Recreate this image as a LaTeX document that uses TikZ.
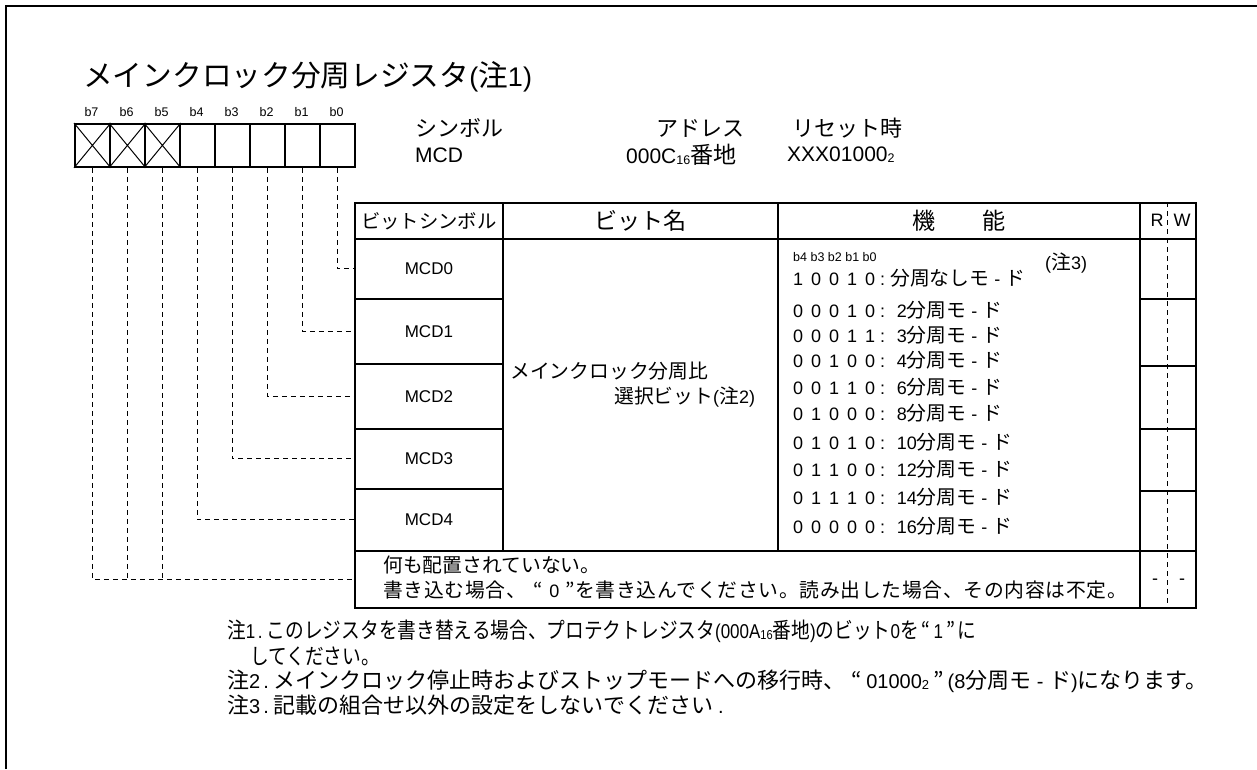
\documentclass[tikz,border=0pt]{standalone}
\usepackage{fontspec}
\usepackage{graphicx}
\setmainfont{Liberation Sans}
\newfontfamily\jp{Noto Sans CJK JP}[Scale=1.1]
\newfontfamily\jpv{Noto Sans CJK JP}[Scale=1.1, LetterSpace=3.5]
\newcommand\J[1]{{\jp #1}}
\newcommand\V[1]{{\jpv #1}}
\newcommand\fs[1]{\fontsize{#1}{#1}\selectfont}
\newcommand\bits[5]{#1\hspace{8pt}#2\hspace{8pt}#3\hspace{8pt}#4\hspace{8pt}#5\hspace{5pt}:\hspace{5pt}}
\newcommand\sub[1]{\raisebox{-1pt}{\fs{12.5}#1}}
\newcommand\subs[1]{\raisebox{-1pt}{\fs{13}#1}}
\newcommand\md{~-~\J{ド}}
\newcommand\cond[1]{\scalebox{0.85}[1]{#1}}
\begin{document}
\begin{tikzpicture}[x=1pt,y=-1pt,
  txt/.style={inner sep=0pt, anchor=west},
  frameline/.style={line width=2pt},
  bitbox/.style={draw, line width=1.8pt, minimum width=35pt, minimum height=43pt, inner sep=0pt, anchor=north west},
  cell/.style={draw, line width=1.8pt, inner sep=0pt, anchor=north west},
  xline/.style={line width=1pt},
  dsh/.style={line width=1pt, dash pattern=on 5pt off 4pt},
  body/.style={font=\fs{18}},
  head/.style={font=\fs{20}},
  headl/.style={font=\fs{21}},
  note/.style={font=\fs{20}, inner sep=0pt, anchor=west},
  small/.style={font=\fs{12.5}, inner sep=0pt}]
\useasboundingbox (0,0) rectangle (1257,769);
% frame
\draw[frameline] (6,769) -- (6,6) -- (1257,6);
% title
\node[txt, font=\fs{27}] (title) at (83,77) {\J{メインクロック分周レジスタ}(\J{注}1)};
% bit boxes
\foreach \i/\n in {0/7,1/6,2/5,3/4,4/3,5/2,6/1,7/0}{
  \node[bitbox] (b\n) at ({74+35*\i},123) {};
  \node[small] (lb\n) at ({91.5+35*\i},112) {b\n};
}
\foreach \n in {7,6,5}{
  \draw[xline] (b\n.north west) -- (b\n.south east) (b\n.south west) -- (b\n.north east);
}
% symbol / address / reset
\node[txt, head] (sym) at (415,128) {\J{シンボル}};
\node[txt, headl] (symv) at (415,155) {MCD};
\node[head, inner sep=0pt] (adr) at (700,128) {\J{アドレス}};
\node[txt, headl] (adrv) at (626,155) {000C\sub{16}\J{番地}};
\node[txt, head] (rst) at (792,128) {\J{リセット時}};
\node[txt, headl] (rstv) at (787,155) {XXX01000\sub{2}};
% table header
\node[cell, minimum width=148pt, minimum height=36pt, font=\fs{17.6}] (hs) at (354,202) {\J{ビットシンボル}};
\node[cell, minimum width=275pt, minimum height=36pt, font=\fs{21}] (hn) at (502,202) {\J{ビット名}};
\node[cell, minimum width=362pt, minimum height=36pt, font=\fs{21}] (hf) at (777,202) {\J{機　　能}};
\node[cell, minimum width=56pt, minimum height=36pt] (hrw) at (1139,202) {};
\node[body, inner sep=0pt] (hr) at (1157,220) {R};
\node[body, inner sep=0pt] (hw) at (1182,220) {W};
% bit symbol cells
\node[cell, minimum width=148pt, minimum height=60pt, font=\fs{17}] (m0) at (354,238) {MCD0};
\node[cell, minimum width=148pt, minimum height=65pt, font=\fs{17}] (m1) at (354,298) {MCD1};
\node[cell, minimum width=148pt, minimum height=65pt, font=\fs{17}] (m2) at (354,363) {MCD2};
\node[cell, minimum width=148pt, minimum height=60pt, font=\fs{17}] (m3) at (354,428) {MCD3};
\node[cell, minimum width=148pt, minimum height=62pt, font=\fs{17}] (m4) at (354,488) {MCD4};
\node[cell, minimum width=275pt, minimum height=312pt] (nm) at (502,238) {};
\node[cell, minimum width=362pt, minimum height=312pt] (fn) at (777,238) {};
\node[cell, minimum width=56pt, minimum height=60pt] (rw0) at (1139,238) {};
\node[cell, minimum width=56pt, minimum height=67pt] (rw1) at (1139,298) {};
\node[cell, minimum width=56pt, minimum height=63pt] (rw2) at (1139,365) {};
\node[cell, minimum width=56pt, minimum height=62pt] (rw3) at (1139,428) {};
\node[cell, minimum width=56pt, minimum height=60pt] (rw4) at (1139,490) {};
\node[cell, minimum width=785pt, minimum height=57pt] (nr) at (354,550) {};
\node[cell, minimum width=56pt, minimum height=57pt] (rw5) at (1139,550) {};
\draw[dsh] (hrw.north) -- (rw5.south);
\node[body, inner sep=0pt] (dr) at (1155,582) {-};
\node[body, inner sep=0pt] (dw) at (1182,582) {-};
% bit name
\node[txt, body] (nm1) at (510,371) {\J{メインクロック分周比}};
\node[txt, body] (nm2) at (614,397) {\J{選択ビット}(\J{注}2)};
% function
\node[txt, small] (fb) at (793,257) {b4 b3 b2 b1 b0};
\node[txt, body] (fn3) at (1045,263) {(\J{注}3)};
\node[txt, body] (f0) at (793,278) {\bits10010\J{分周なしモ}\md};
\node[txt, body] (f1) at (793,310) {\bits00010 2\J{分周モ}\md};
\node[txt, body] (f2) at (793,335) {\bits00011 3\J{分周モ}\md};
\node[txt, body] (f3) at (793,360) {\bits00100 4\J{分周モ}\md};
\node[txt, body] (f4) at (793,387) {\bits00110 6\J{分周モ}\md};
\node[txt, body] (f5) at (793,413) {\bits01000 8\J{分周モ}\md};
\node[txt, body] (f6) at (793,442) {\bits01010 10\J{分周モ}\md};
\node[txt, body] (f7) at (793,469) {\bits01100 12\J{分周モ}\md};
\node[txt, body] (f8) at (793,497) {\bits01110 14\J{分周モ}\md};
\node[txt, body] (f9) at (793,526) {\bits00000 16\J{分周モ}\md};
% last row
\node[txt, body] (u1) at (383,565) {\J{何も配置されていない。}};
\node[txt, body] (u2) at (383,590) {\V{書き込む場合、}\hspace{8pt}\V{“}\hspace{6pt}0\hspace{6pt}\V{”を書き込んでください。読み出した場合、その内容は不定。}};
% connectors
\draw[dsh] (b0.south) |- (m0.west);
\draw[dsh] (b1.south) |- (m1.west);
\draw[dsh] (b2.south) |- (m2.west);
\draw[dsh] (b3.south) |- (m3.west);
\draw[dsh] (b4.south) |- (m4.west);
\draw[dsh] (b7.south) |- (nr.west);
\draw[dsh] (b6.south) -- (b6.south |- nr.west);
\draw[dsh] (b5.south) -- (b5.south |- nr.west);
% notes
\node[note] (n1) at (227,631) {\cond{\J{注}1\hspace{3pt}.\hspace{5pt}\J{このレジスタを書き替える場合、プロテクトレジスタ}(000A\subs{16}\J{番地})\J{のビット}0\J{を}\hspace{3pt}\J{“}\hspace{4pt}1\hspace{4pt}\J{”}\hspace{3pt}\J{に}}};
\node[note] (n1b) at (250,656) {\cond{\J{してください。}}};
\node[note] (n2) at (227,681) {\J{注}2\hspace{3pt}.\hspace{5pt}\J{メインクロック停止時およびストップモードへの移行時、}\hspace{6pt}\J{“}\hspace{4pt}01000\subs{2}\hspace{4pt}\J{”}\hspace{4pt}(8\J{分周モ}\md)\J{になります。}};
\node[note] (n3) at (227,705) {\J{注}3\hspace{3pt}.\hspace{5pt}\J{記載の組合せ以外の設定をしないでください}\hspace{5pt}.};
\end{tikzpicture}
\end{document}
